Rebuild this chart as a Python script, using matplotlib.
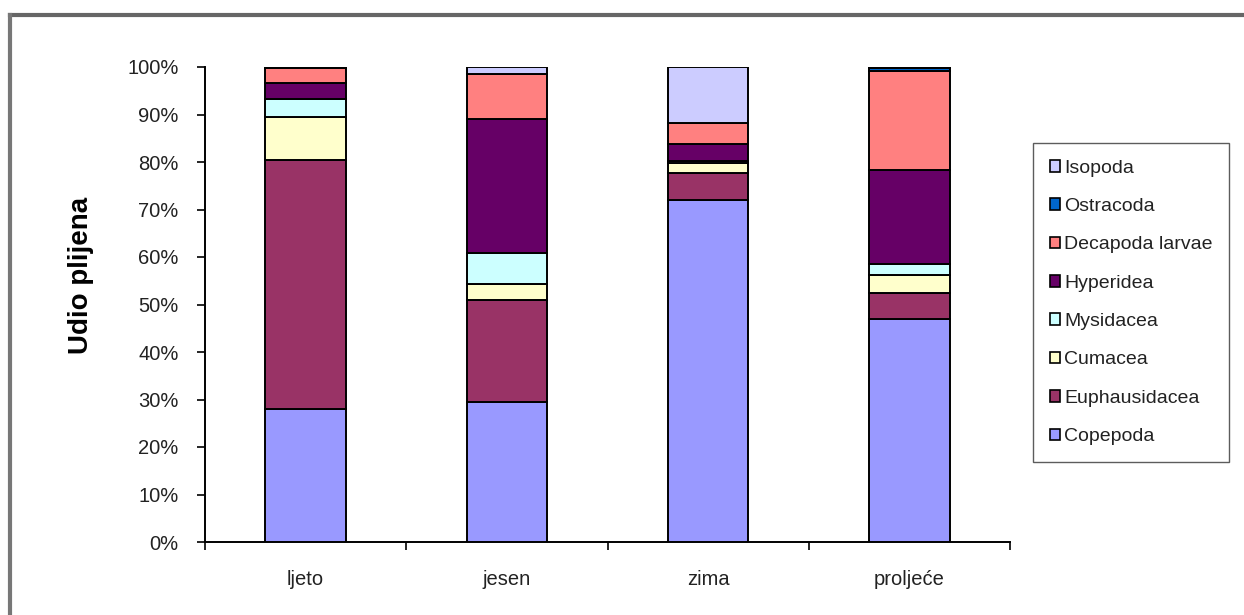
import matplotlib
matplotlib.use("Agg")
import matplotlib.pyplot as plt
from matplotlib.patches import Patch
from matplotlib.lines import Line2D
import numpy as np

plt.rcParams['font.family'] = ['Liberation Sans', 'DejaVu Sans']

categories = ["ljeto", "jesen", "zima", "proljeće"]
series_names = ["Copepoda", "Euphausidacea", "Cumacea", "Mysidacea",
                "Hyperidea", "Decapoda larvae", "Ostracoda", "Isopoda"]
copepoda      = [28.0, 29.5, 72.0, 47.0]
euphausidacea = [52.5, 21.5, 5.7, 5.4]
cumacea       = [9.0, 3.3, 2.1, 3.8]
mysidacea     = [3.7, 6.5, 0.5, 2.3]
hyperidea     = [3.4, 28.2, 3.5, 19.8]
decapoda      = [3.1, 9.5, 4.4, 20.9]
ostracoda     = [0.2, 0.0, 0.0, 0.5]
isopoda       = [0.1, 1.5, 11.8, 0.3]
colors = ["#9999FF", "#993366", "#FFFFCC", "#CCFFFF",
          "#660066", "#FF8080", "#0066CC", "#CCCCFF"]
yticks = [0, 10, 20, 30, 40, 50, 60, 70, 80, 90, 100]

series = [copepoda, euphausidacea, cumacea, mysidacea,
          hyperidea, decapoda, ostracoda, isopoda]

fig = plt.figure(figsize=(12.44, 6.15), dpi=100)
ax = fig.add_axes([205/1244, 1-542/615, (1010-205)/1244, (542-67)/615])

x = np.arange(len(categories))
bottom = np.zeros(len(categories))
for name, vals, c in zip(series_names, series, colors):
    v = np.array(vals)
    ax.bar(x, v, 0.4, bottom=bottom, color=c, edgecolor="black",
           linewidth=1.4, label=name, zorder=3)
    bottom += v

ax.set_xlim(-0.5, 3.5)
ax.set_ylim(0, 100)
ax.set_yticks(yticks)
ax.set_yticklabels([f"{t}%" for t in yticks], fontsize=14.5, color="#222222")
ax.set_xticks(x)
ax.set_xticklabels(categories, fontsize=14.5, color="#222222")
ax.tick_params(axis='x', length=0, pad=20)
ax.set_xticks(np.arange(-0.5, 4.0, 1.0), minor=True)
ax.tick_params(axis='x', which='minor', length=6, width=1.2, direction='out')
ax.tick_params(axis='y', length=6, width=1.2, direction='out', pad=13)
for s in ["top", "right"]:
    ax.spines[s].set_visible(False)
for s in ["left", "bottom"]:
    ax.spines[s].set_linewidth(1.4)
ax.set_ylabel("Udio plijena", fontsize=20, fontweight="bold")
ax.yaxis.set_label_coords((94-205)/805, (542-275)/475)

handles = [Patch(facecolor=c, edgecolor="black", linewidth=1.2)
           for c in colors][::-1]
leg = fig.legend(handles, series_names[::-1], loc="upper left",
                 bbox_to_anchor=(1033/1244, 1-143/615), fontsize=14,
                 frameon=True, fancybox=False, edgecolor="#333333",
                 handlelength=0.55, handleheight=0.55, handletextpad=0.2,
                 labelspacing=1.1, borderpad=0.85, borderaxespad=0)
leg.get_frame().set_linewidth(1.0)
for t in leg.get_texts():
    t.set_color("#222222")

# outer frame (top and left edges visible)
fig.add_artist(Line2D([10/1244, 1.0], [1-15/615, 1-15/615],
                      transform=fig.transFigure, color="#666666", linewidth=3))
fig.add_artist(Line2D([10/1244, 10/1244], [0, 1-15/615],
                      transform=fig.transFigure, color="#777777", linewidth=3))

fig.savefig("out.png", dpi=100)
